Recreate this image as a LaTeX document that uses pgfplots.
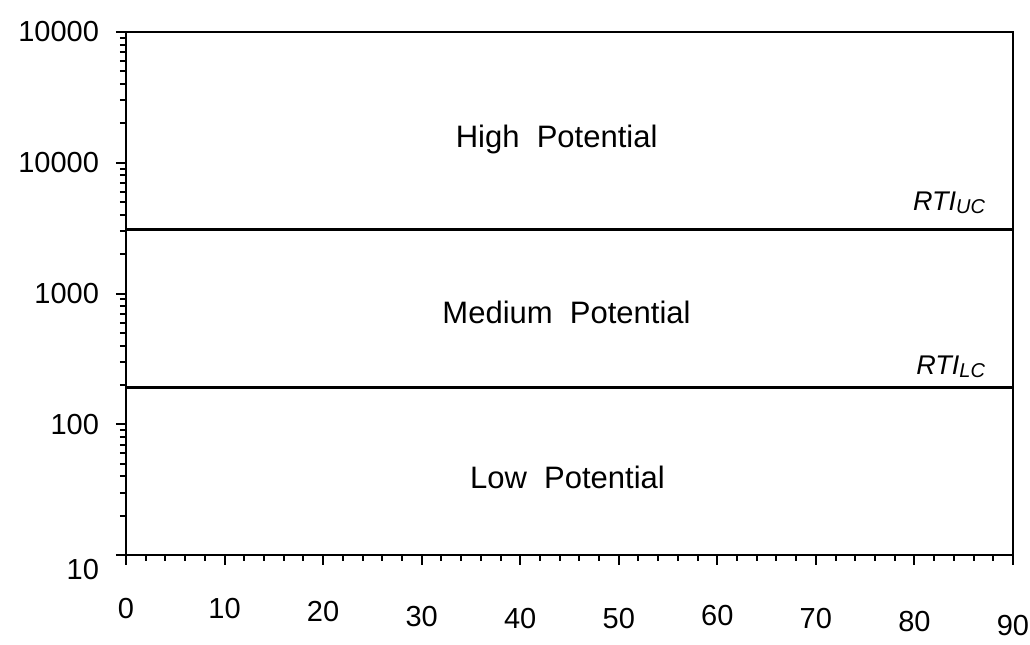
\documentclass[border=0pt]{standalone}
\usepackage{pgfplots}
\pgfplotsset{compat=1.18}
\usepackage{fontspec}
\setmainfont{Liberation Sans}

% move a tick label down without changing its box
\newcommand{\dn}[2]{\raisebox{-#1}[\height][\depth]{#2}}

\begin{document}
\begin{tikzpicture}
% fixed page frame around the axis box
\useasboundingbox (-63pt,-44.5pt) rectangle (452pt,277.5pt);
\begin{axis}[
  at={(0,0)}, anchor=south west,
  scale only axis,
  width=443.5pt, height=261.5pt,
  xmin=0, xmax=90,
  ymode=log, ymin=10, ymax=100000,
  axis line style={line width=1.4pt},
  tick align=outside,
  tick style={black, line width=1pt},
  major tick length=5pt,
  minor tick length=3pt,
  xtick={0,10,...,90},
  minor x tick num=4,
  xticklabels={
    0,10,\dn{1.5pt}{20},\dn{4pt}{30},\dn{5pt}{40},
    \dn{5pt}{50},\dn{3.5pt}{60},\dn{5pt}{70},\dn{6.5pt}{80},\dn{8.5pt}{90}},
  ytick={10,100,1000,10000,100000},
  yticklabels={\dn{7.5pt}{10},100,1000,10000,10000},
  xtick pos=bottom, ytick pos=left,
  /pgf/number format/assume math mode=true,
  ticklabel style={font=\fontsize{14.5}{17}\selectfont},
  xticklabel style={yshift=-13pt},
  yticklabel style={xshift=-5pt},
  clip=false,
]
% category boundaries
\addplot[black, line width=1.5pt] coordinates {(0,3100) (90,3100)};
\addplot[black, line width=1.5pt] coordinates {(0,190) (90,190)};

\node[font=\fontsize{15.5}{18}\selectfont] at (axis cs:43.7,15000) {High\ \ Potential};
\node[font=\fontsize{15.5}{18}\selectfont] at (axis cs:44.7,720) {Medium\ \ Potential};
\node[font=\fontsize{15.5}{18}\selectfont] at (axis cs:44.8,39) {Low\ \ Potential};

\node[anchor=east, inner sep=0pt, font=\fontsize{13.5}{15}\selectfont\itshape]
  at (axis cs:87.2,4900) {RTI\raisebox{-1.5pt}{\fontsize{10}{11}\selectfont UC}};
\node[anchor=east, inner sep=0pt, font=\fontsize{13.5}{15}\selectfont\itshape]
  at (axis cs:87.2,275) {RTI\raisebox{-1.5pt}{\fontsize{10}{11}\selectfont LC}};
\end{axis}
\end{tikzpicture}
\end{document}
